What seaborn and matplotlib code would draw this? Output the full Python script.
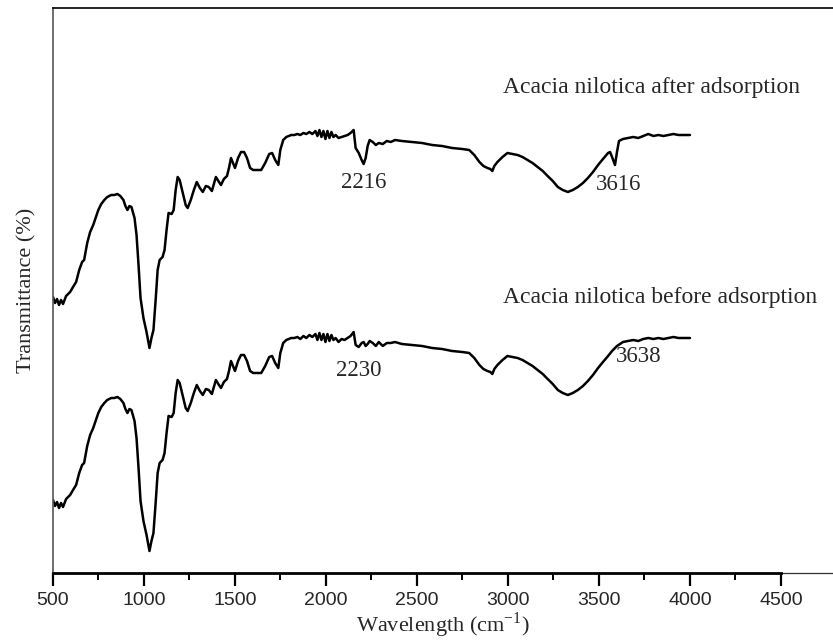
import matplotlib
matplotlib.use("Agg")
import matplotlib.pyplot as plt
import seaborn as sns
import pandas as pd
import numpy as np

# ---------------- data ----------------
wn_after = [500, 511, 522, 533, 544, 555, 572, 594, 610, 627, 644, 660, 671, 688, 704, 721, 738, 749,
            765, 782, 798, 820, 837, 854, 870, 887, 898, 909, 920, 931, 948, 959, 970, 981, 997, 1014,
            1030, 1041, 1052, 1064, 1075, 1086, 1102, 1113, 1124, 1135, 1152, 1163, 1174, 1185, 1196,
            1213, 1229, 1240, 1257, 1274, 1290, 1307, 1323, 1340, 1356, 1373, 1384, 1395, 1412, 1423,
            1439, 1456, 1467, 1478, 1489, 1500, 1517, 1533, 1550, 1566, 1583, 1600, 1622, 1644, 1666,
            1688, 1704, 1721, 1738, 1749, 1765, 1782, 1809, 1826, 1843, 1859, 1876, 1892, 1909, 1925,
            1942, 1953, 1964, 1975, 1986, 1997, 2008, 2019, 2030, 2041, 2053, 2069, 2086, 2102, 2119,
            2135, 2152, 2163, 2180, 2196, 2207, 2218, 2229, 2240, 2257, 2274, 2290, 2312, 2334, 2356,
            2379, 2417, 2472, 2528, 2583, 2638, 2693, 2749, 2787, 2815, 2843, 2865, 2887, 2903, 2914,
            2925, 2942, 2970, 2997, 3025, 3053, 3080, 3108, 3135, 3163, 3191, 3218, 3246, 3274, 3301,
            3329, 3356, 3384, 3412, 3439, 3467, 3495, 3522, 3550, 3561, 3572, 3588, 3599, 3610, 3632,
            3660, 3688, 3716, 3743, 3771, 3799, 3826, 3854, 3882, 3909, 3937, 3964, 4000]
t_after = [275, 269, 273, 267, 272, 268, 276, 280, 285, 290, 302, 310, 312, 329, 340, 347, 356, 362,
           368, 372, 375, 377, 377, 378, 376, 372, 366, 362, 366, 365, 354, 337, 307, 274, 254, 240,
           224, 234, 242, 272, 302, 312, 315, 322, 342, 359, 358, 362, 382, 395, 392,
           379, 367, 364, 372, 382, 390, 384, 380, 386, 385, 381, 388, 395, 390, 387,
           393, 396, 404, 414, 409, 404, 414, 420, 420, 414, 404, 402, 402, 402, 409,
           418, 419, 412, 407, 422, 432, 435, 437, 437, 438, 437, 439, 438, 440, 438,
           441, 436, 442, 435, 441, 433, 441, 434, 440, 435, 437, 434, 435, 436, 437,
           439, 442, 424, 419, 412, 408, 414, 426, 432, 430, 427, 429, 428, 431, 430,
           432, 431, 430, 429, 427, 426, 424, 423, 422, 417, 410, 406, 404, 403, 401,
           406, 410, 415, 419, 418, 417, 415, 412, 409, 405, 401, 396, 391, 385, 382,
           380, 382, 385, 389, 394, 400, 407, 413, 419, 420, 415, 407, 420, 431, 433,
           434, 435, 434, 436, 438, 436, 437, 436, 437, 438, 437, 437, 437]

wn_before = [500, 511, 522, 533, 544, 555, 572, 594, 610, 627, 644, 660, 671, 688, 704, 721, 738, 749,
             765, 782, 798, 820, 837, 854, 870, 887, 898, 909, 920, 931, 948, 959, 970, 981, 997, 1014,
             1030, 1041, 1052, 1064, 1075, 1086, 1102, 1113, 1124, 1135, 1152, 1163, 1174, 1185, 1196,
             1213, 1229, 1240, 1257, 1274, 1290, 1307, 1323, 1340, 1356, 1373, 1384, 1395, 1412, 1423,
             1439, 1456, 1467, 1478, 1489, 1500, 1517, 1533, 1550, 1566, 1583, 1600, 1622, 1644, 1666,
             1688, 1704, 1721, 1738, 1749, 1765, 1782, 1809, 1826, 1843, 1859, 1876, 1892, 1909, 1925,
             1942, 1953, 1964, 1975, 1986, 1997, 2008, 2019, 2030, 2041, 2053, 2069, 2086, 2102, 2119,
             2135, 2152, 2163, 2180, 2196, 2207, 2218, 2229, 2240, 2257, 2274, 2290, 2312, 2334, 2356,
             2379, 2417, 2472, 2528, 2583, 2638, 2693, 2749, 2787, 2815, 2843, 2865, 2887, 2903, 2914,
             2925, 2942, 2970, 2997, 3025, 3053, 3080, 3108, 3135, 3163, 3191, 3218, 3246, 3274, 3301,
             3329, 3356, 3384, 3412, 3439, 3467, 3495, 3522, 3550, 3572, 3599, 3632, 3660, 3688, 3716,
             3743, 3771, 3799, 3826, 3854, 3882, 3909, 3937, 3964, 4000]
t_before = [72, 66, 70, 64, 69, 65, 73, 77, 82, 87, 99, 107, 109, 126, 137, 144, 153, 159,
            165, 169, 172, 174, 174, 175, 173, 169, 163, 159, 163, 162, 151, 134, 104, 71, 51, 37,
            21, 31, 39, 69, 99, 109, 112, 119, 139, 156, 155, 159, 179, 192, 189,
            176, 164, 161, 169, 179, 187, 181, 177, 183, 182, 178, 185, 192, 187, 184,
            190, 193, 201, 211, 206, 201, 211, 217, 217, 211, 201, 199, 199, 199, 206,
            215, 216, 209, 204, 219, 229, 232, 234, 234, 235, 233, 236, 234, 237, 235,
            238, 232, 239, 232, 238, 230, 238, 231, 237, 232, 234, 230, 233, 232, 234,
            236, 240, 227, 225, 229, 230, 226, 228, 231, 229, 226, 230, 226, 229, 229,
            230, 228, 227, 226, 224, 223, 221, 220, 219, 214, 207, 203, 201, 200, 198,
            203, 207, 212, 216, 215, 214, 212, 209, 206, 202, 198, 193, 188, 182, 179,
            177, 179, 182, 186, 191, 197, 204, 210, 216, 221, 226, 230, 231, 232, 231,
            233, 234, 233, 234, 233, 234, 235, 234, 234, 234]

series_labels = ["Acacia nilotica after adsorption", "Acacia nilotica before adsorption"]
peak_labels = ["2216", "3616", "2230", "3638"]
peak_label_pos = [(2207, 389), (3610, 388), (2180, 201), (3716, 216)]
xticks = [500, 1000, 1500, 2000, 2500, 3000, 3500, 4000, 4500]

df = pd.concat([
    pd.DataFrame({"wn": wn_after, "T": t_after, "sample": series_labels[0]}),
    pd.DataFrame({"wn": wn_before, "T": t_before, "sample": series_labels[1]}),
])

# ---------------- figure ----------------
sns.set_theme(style="white")
plt.rcParams["font.family"] = ["Liberation Serif", "DejaVu Serif"]
plt.rcParams["mathtext.fontset"] = "custom"
plt.rcParams["mathtext.rm"] = "Liberation Serif"

fig = plt.figure(figsize=(8.33, 6.43), dpi=100)
ax = fig.add_axes([53 / 833, 70 / 643, 1 - 53 / 833, 565 / 643])

sns.lineplot(data=df, x="wn", y="T", units="sample", estimator=None, sort=False,
             color="black", linewidth=1.8, ax=ax, legend=False)

ax.set_xlim(500, 4786)
ax.set_ylim(-1, 564)

ax.set_xticks(xticks)
ax.set_xticks([750, 1250, 1750, 2250, 2750, 3250, 3750, 4250], minor=True)
ax.set_xticklabels([str(t) for t in xticks], fontfamily="Liberation Sans", fontsize=14)
ax.set_yticks([])
ax.tick_params(axis="x", which="major", direction="out", length=9, width=1.6,
               color="black", pad=5, bottom=True)
ax.tick_params(axis="x", which="minor", direction="out", length=5, width=1.4,
               color="black", bottom=True)

ax.spines["right"].set_visible(False)
ax.spines["top"].set_visible(True)
ax.spines["left"].set_visible(True)
ax.spines["bottom"].set_visible(True)
ax.spines["top"].set_color("black")
ax.spines["top"].set_linewidth(1.2)
ax.spines["left"].set_color("#555555")
ax.spines["left"].set_linewidth(1.2)
ax.spines["bottom"].set_color("black")
ax.spines["bottom"].set_linewidth(2.0)
ax.spines["bottom"].set_bounds(500, 4500)
ax.plot([4500, 4786], [-1, -1], color="#333333", linewidth=0.9, clip_on=False)

ax.set_xlabel("Wavelength (cm$^{\\mathregular{-1}}$)", fontsize=16, labelpad=1)
ax.set_ylabel("Transmittance (%)", fontsize=16, labelpad=12)

ax.text(2970, 485, series_labels[0], fontsize=17, ha="left", va="center")
ax.text(2970, 274, series_labels[1], fontsize=17, ha="left", va="center")
for lab, (px, py) in zip(peak_labels, peak_label_pos):
    ax.text(px, py, lab, fontsize=16.5, ha="center", va="center")

fig.savefig("out.png", dpi=100)
